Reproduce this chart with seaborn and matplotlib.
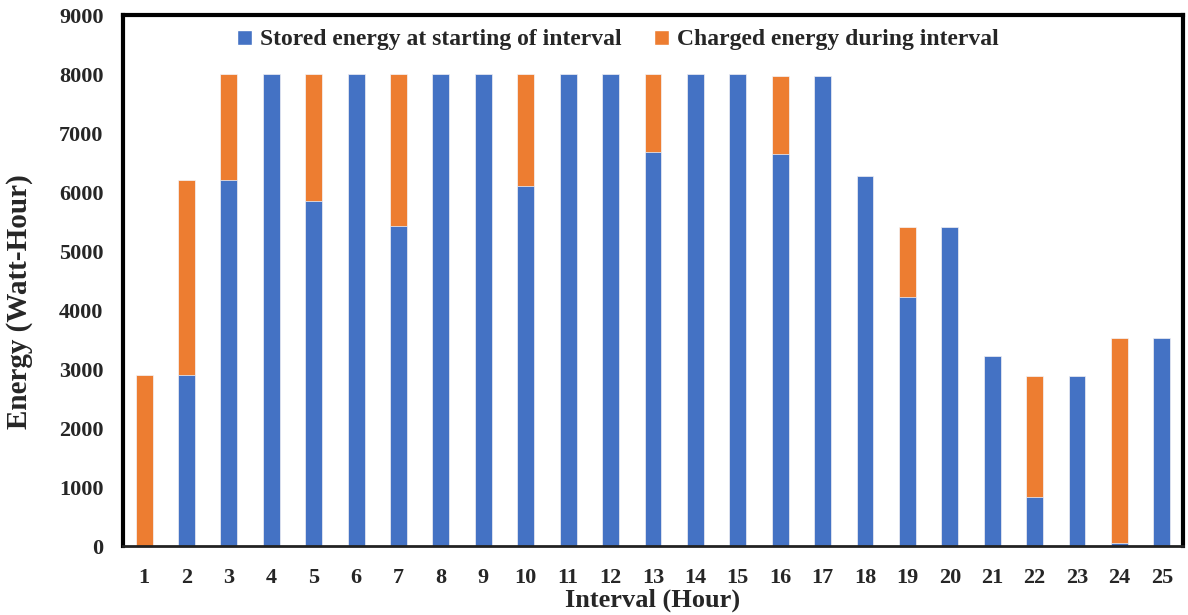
import numpy as np
import pandas as pd
import matplotlib
matplotlib.use("Agg")
import matplotlib.pyplot as plt
import seaborn as sns
from matplotlib.patches import Patch

# Battery energy per one-hour interval (Wh)
intervals = [str(i) for i in range(1, 26)]
stored = [0, 2900, 6200, 8000, 5850, 8000, 5430, 8000, 8000, 6100,
          8000, 8000, 6680, 8000, 8000, 6640, 7960, 6270, 4220, 5400,
          3220, 840, 2880, 50, 3520]
charged = [2900, 3300, 1800, 0, 2150, 0, 2570, 0, 0, 1900,
           0, 0, 1320, 0, 0, 1320, 0, 0, 1180, 0,
           0, 2040, 0, 3470, 0]
series_names = ["Stored energy at starting of interval",
                "Charged energy during interval"]
y_ticks = list(range(0, 9001, 1000))

blue = "#4472C4"
orange = "#ED7D31"

sns.set_theme(style="white")
plt.rcParams["font.family"] = ["Liberation Serif", "DejaVu Serif"]
plt.rcParams["font.weight"] = "bold"

df = pd.DataFrame({"interval": intervals, "stored": stored, "charged": charged})
df["total"] = df["stored"] + df["charged"]

fig = plt.figure(figsize=(11.88, 6.15), dpi=100)
ax = fig.add_axes([0.1035, 0.112, 0.8923, 0.8636])

# stacked bars: full height in orange, stored part drawn over it in blue
sns.barplot(data=df, x="interval", y="total", color=orange, width=0.4,
            saturation=1, ax=ax, edgecolor="#f4f6fb", linewidth=0.5)
sns.barplot(data=df, x="interval", y="stored", color=blue, width=0.4,
            saturation=1, ax=ax, edgecolor="#f4f6fb", linewidth=0.5)

ax.set_ylim(0, 9000)
ax.set_xlim(-0.5, len(intervals) - 0.5)
ax.set_yticks(y_ticks)
ax.set_yticklabels([str(t) for t in y_ticks], fontsize=16, fontweight="bold")
ax.set_xticks(range(len(intervals)))
ax.set_xticklabels(intervals, fontsize=16, fontweight="bold")
ax.tick_params(axis="both", length=0)
ax.tick_params(axis="y", pad=14)
ax.tick_params(axis="x", pad=16)

ax.set_xlabel("Interval (Hour)", fontsize=19, fontweight="bold", labelpad=0)
ax.set_ylabel("Energy (Watt-Hour)", fontsize=21, fontweight="bold")
ax.yaxis.set_label_coords(-0.085, 0.46)

for side in ["left", "top", "right"]:
    ax.spines[side].set_linewidth(3)
    ax.spines[side].set_color("black")
ax.spines["bottom"].set_linewidth(2)
ax.spines["bottom"].set_color("#222222")

handles = [Patch(facecolor=blue, label=series_names[0]),
           Patch(facecolor=orange, label=series_names[1])]
ax.legend(handles=handles, loc="center", bbox_to_anchor=(0.467, 0.953),
          ncol=2, frameon=False, handlelength=0.6, handleheight=0.6,
          handletextpad=0.35, columnspacing=1.4,
          prop={"size": 17, "weight": "bold"})

fig.savefig("out.png", dpi=100)
